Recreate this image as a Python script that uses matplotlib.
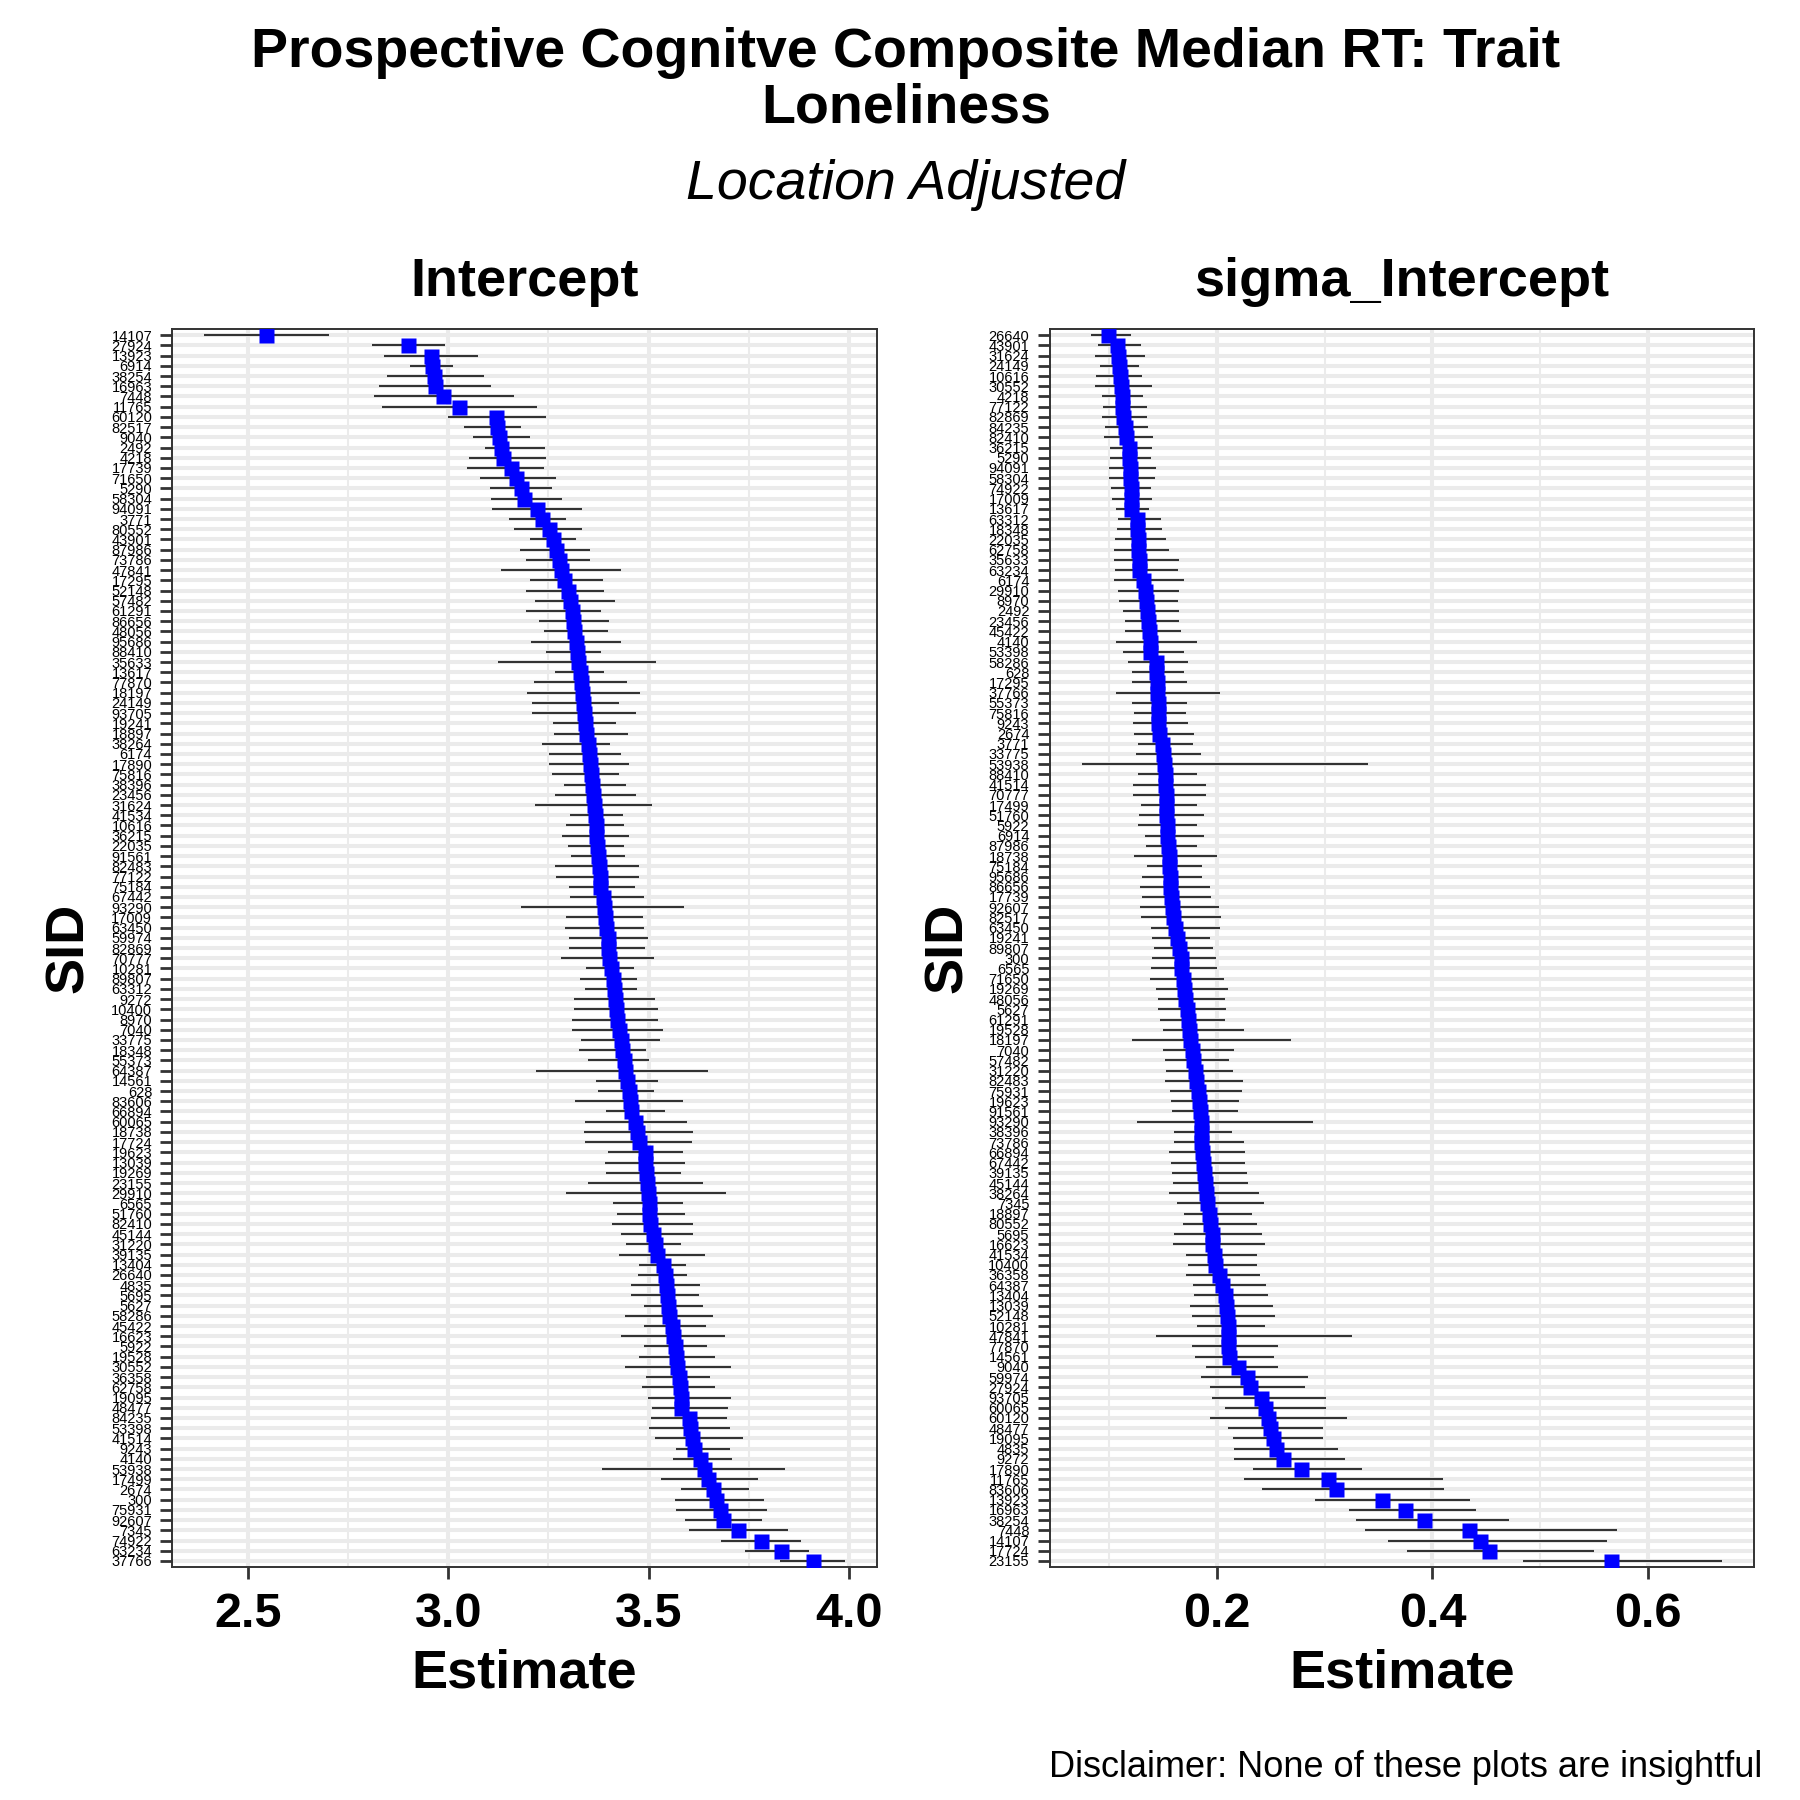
import matplotlib
matplotlib.use("Agg")
import matplotlib.pyplot as plt
from matplotlib.ticker import FixedLocator

plt.rcParams['font.family'] = ['Liberation Sans', 'DejaVu Sans']

# ---- Intercept panel ----
sid_int = ["14107", "27924", "13923", "6914", "38254", "16963", "7448", "11765", "60120", "82517",
           "9040", "2492", "4218", "17739", "71650", "5290", "58304", "94091", "3771", "80552",
           "43901", "87986", "73786", "47841", "17295", "52148", "57482", "61291", "86656", "48056",
           "95686", "88410", "35633", "13617", "77870", "18197", "24149", "93705", "19241", "18897",
           "38264", "6174", "17890", "75816", "38396", "23456", "31624", "41534", "10616", "36215",
           "22035", "91561", "82483", "77122", "75184", "67442", "93290", "17009", "63450", "59974",
           "82869", "70777", "10281", "89807", "63312", "9272", "10400", "8970", "7040", "33775",
           "18348", "55373", "64387", "14561", "628", "83606", "66894", "60065", "18738", "17724",
           "19623", "13039", "19269", "23155", "29910", "6565", "51760", "82410", "45144", "31220",
           "39135", "13404", "26640", "4835", "5695", "5627", "58286", "45422", "16623", "5922",
           "19528", "30552", "36358", "62758", "19095", "48477", "84235", "53398", "41514", "9243",
           "4140", "53938", "17499", "2674", "300", "75931", "92607", "7345", "74922", "63234", "37766"]
est_int = [2.545, 2.901, 2.958, 2.960, 2.964, 2.966, 2.986, 3.026, 3.120, 3.123,
           3.127, 3.132, 3.136, 3.158, 3.170, 3.182, 3.190, 3.222, 3.235, 3.252,
           3.262, 3.270, 3.276, 3.282, 3.290, 3.298, 3.304, 3.310, 3.312, 3.315,
           3.318, 3.322, 3.325, 3.328, 3.331, 3.334, 3.337, 3.340, 3.342, 3.345,
           3.348, 3.351, 3.354, 3.357, 3.360, 3.362, 3.364, 3.366, 3.368, 3.370,
           3.372, 3.374, 3.376, 3.378, 3.380, 3.386, 3.389, 3.392, 3.395, 3.398,
           3.400, 3.402, 3.407, 3.410, 3.413, 3.416, 3.418, 3.420, 3.426, 3.430,
           3.434, 3.438, 3.441, 3.446, 3.450, 3.453, 3.456, 3.466, 3.470, 3.475,
           3.490, 3.492, 3.494, 3.496, 3.498, 3.500, 3.502, 3.504, 3.512, 3.516,
           3.520, 3.536, 3.540, 3.543, 3.546, 3.549, 3.552, 3.558, 3.562, 3.565,
           3.568, 3.570, 3.576, 3.578, 3.580, 3.582, 3.600, 3.604, 3.608, 3.614,
           3.628, 3.638, 3.648, 3.660, 3.668, 3.677, 3.686, 3.722, 3.780, 3.830, 3.910]
lo_int = [2.392, 2.809, 2.841, 2.906, 2.848, 2.827, 2.814, 2.834, 3.000, 3.040,
          3.063, 3.091, 3.053, 3.048, 3.080, 3.105, 3.106, 3.109, 3.153, 3.165,
          3.205, 3.180, 3.193, 3.132, 3.205, 3.195, 3.216, 3.193, 3.227, 3.239,
          3.207, 3.244, 3.125, 3.267, 3.214, 3.197, 3.210, 3.208, 3.261, 3.264,
          3.234, 3.252, 3.252, 3.259, 3.289, 3.267, 3.216, 3.305, 3.293, 3.284,
          3.298, 3.307, 3.267, 3.270, 3.302, 3.305, 3.182, 3.293, 3.291, 3.301,
          3.302, 3.281, 3.343, 3.330, 3.341, 3.313, 3.313, 3.309, 3.308, 3.332,
          3.326, 3.350, 3.218, 3.369, 3.375, 3.316, 3.393, 3.341, 3.339, 3.341,
          3.400, 3.392, 3.395, 3.350, 3.295, 3.411, 3.420, 3.409, 3.430, 3.443,
          3.427, 3.477, 3.474, 3.457, 3.455, 3.489, 3.441, 3.489, 3.430, 3.489,
          3.477, 3.440, 3.494, 3.483, 3.498, 3.508, 3.506, 3.500, 3.515, 3.568,
          3.560, 3.384, 3.531, 3.580, 3.566, 3.568, 3.591, 3.602, 3.680, 3.741, 3.827]
hi_int = [2.702, 2.993, 3.075, 3.011, 3.089, 3.106, 3.165, 3.222, 3.244, 3.182,
          3.205, 3.241, 3.244, 3.239, 3.270, 3.259, 3.284, 3.335, 3.295, 3.335,
          3.320, 3.355, 3.355, 3.430, 3.386, 3.390, 3.415, 3.381, 3.401, 3.398,
          3.430, 3.381, 3.519, 3.389, 3.447, 3.478, 3.426, 3.469, 3.418, 3.449,
          3.403, 3.430, 3.450, 3.426, 3.443, 3.468, 3.508, 3.435, 3.438, 3.451,
          3.439, 3.440, 3.475, 3.475, 3.466, 3.489, 3.589, 3.485, 3.489, 3.498,
          3.490, 3.514, 3.464, 3.472, 3.472, 3.517, 3.523, 3.523, 3.536, 3.528,
          3.494, 3.502, 3.647, 3.523, 3.514, 3.585, 3.540, 3.597, 3.610, 3.608,
          3.585, 3.591, 3.580, 3.636, 3.694, 3.585, 3.591, 3.610, 3.611, 3.580,
          3.640, 3.594, 3.597, 3.628, 3.625, 3.636, 3.660, 3.642, 3.690, 3.645,
          3.665, 3.705, 3.653, 3.665, 3.705, 3.698, 3.695, 3.702, 3.735, 3.702,
          3.708, 3.841, 3.773, 3.750, 3.789, 3.795, 3.784, 3.847, 3.880, 3.900, 3.989]

# ---- sigma_Intercept panel ----
sid_sig = ["26640", "43901", "31624", "24149", "10616", "30552", "4218", "77122", "82869", "84235",
           "82410", "36215", "5290", "94091", "58304", "74922", "17009", "13617", "63312", "18348",
           "22035", "62758", "35633", "63234", "6174", "29910", "8970", "2492", "23456", "45422",
           "4140", "53398", "58286", "628", "17295", "37766", "55373", "75816", "9243", "2674",
           "3771", "33775", "53938", "88410", "41514", "70777", "17499", "51760", "5922", "6914",
           "87986", "18738", "75184", "95686", "86656", "17739", "92607", "82517", "63450", "19241",
           "89807", "300", "6565", "71650", "19269", "48056", "5627", "61291", "19528", "18197",
           "7040", "57482", "31220", "82483", "75931", "19623", "91561", "93290", "38396", "73786",
           "66894", "67442", "39135", "45144", "38264", "7345", "18897", "80552", "5695", "16623",
           "41534", "10400", "36358", "64387", "13404", "13039", "52148", "10281", "47841", "77870",
           "14561", "9040", "59974", "27924", "93705", "60065", "60120", "48477", "19095", "4835",
           "9272", "17890", "11765", "83606", "13923", "16963", "38254", "7448", "14107", "17724", "23155"]
est_sig = [0.0990, 0.1071, 0.1080, 0.1093, 0.1100, 0.1110, 0.1114, 0.1120, 0.1127, 0.1144,
           0.1157, 0.1180, 0.1186, 0.1190, 0.1195, 0.1200, 0.1203, 0.1203, 0.1255, 0.1260,
           0.1263, 0.1270, 0.1272, 0.1280, 0.1314, 0.1335, 0.1344, 0.1350, 0.1357, 0.1365,
           0.1374, 0.1382, 0.1433, 0.1438, 0.1440, 0.1446, 0.1450, 0.1450, 0.1455, 0.1460,
           0.1485, 0.1500, 0.1510, 0.1514, 0.1520, 0.1523, 0.1527, 0.1531, 0.1536, 0.1540,
           0.1548, 0.1550, 0.1557, 0.1560, 0.1565, 0.1570, 0.1578, 0.1590, 0.1612, 0.1630,
           0.1646, 0.1663, 0.1670, 0.1685, 0.1693, 0.1706, 0.1720, 0.1727, 0.1740, 0.1753,
           0.1766, 0.1778, 0.1796, 0.1808, 0.1825, 0.1834, 0.1842, 0.1847, 0.1850, 0.1855,
           0.1864, 0.1872, 0.1880, 0.1890, 0.1900, 0.1910, 0.1923, 0.1936, 0.1950, 0.1957,
           0.1970, 0.1983, 0.2020, 0.2047, 0.2072, 0.2085, 0.2094, 0.2098, 0.2100, 0.2106,
           0.2110, 0.2196, 0.2277, 0.2307, 0.2410, 0.2447, 0.2477, 0.2490, 0.2520, 0.2550,
           0.2609, 0.2780, 0.3027, 0.3100, 0.3534, 0.3742, 0.3917, 0.4343, 0.4441, 0.4522, 0.5659]
lo_sig = [0.0829, 0.0892, 0.0871, 0.0914, 0.0880, 0.0871, 0.0931, 0.0944, 0.0931, 0.0956,
          0.0948, 0.1007, 0.1007, 0.0995, 0.0995, 0.1016, 0.1029, 0.1059, 0.1084, 0.1071,
          0.1050, 0.1042, 0.1042, 0.1050, 0.1042, 0.1084, 0.1093, 0.1127, 0.1144, 0.1148,
          0.1063, 0.1127, 0.1178, 0.1212, 0.1208, 0.1059, 0.1212, 0.1229, 0.1220, 0.1233,
          0.1263, 0.1250, 0.0743, 0.1263, 0.1220, 0.1220, 0.1293, 0.1276, 0.1263, 0.1327,
          0.1340, 0.1229, 0.1348, 0.1306, 0.1285, 0.1306, 0.1285, 0.1293, 0.1391, 0.1400,
          0.1412, 0.1400, 0.1391, 0.1382, 0.1433, 0.1455, 0.1455, 0.1468, 0.1497, 0.1212,
          0.1497, 0.1519, 0.1527, 0.1519, 0.1561, 0.1570, 0.1583, 0.1255, 0.1604, 0.1604,
          0.1553, 0.1570, 0.1583, 0.1595, 0.1553, 0.1625, 0.1689, 0.1681, 0.1604, 0.1595,
          0.1710, 0.1732, 0.1710, 0.1774, 0.1783, 0.1753, 0.1766, 0.1817, 0.1433, 0.1766,
          0.1796, 0.1902, 0.1851, 0.1936, 0.1953, 0.2072, 0.1936, 0.2106, 0.2149, 0.2158,
          0.2158, 0.2337, 0.2251, 0.2413, 0.2912, 0.3223, 0.3286, 0.3372, 0.3585, 0.3764, 0.4841]
hi_sig = [0.1203, 0.1293, 0.1335, 0.1280, 0.1306, 0.1400, 0.1314, 0.1348, 0.1348, 0.1357,
          0.1404, 0.1400, 0.1391, 0.1433, 0.1425, 0.1391, 0.1400, 0.1370, 0.1476, 0.1489,
          0.1527, 0.1553, 0.1646, 0.1634, 0.1689, 0.1646, 0.1638, 0.1646, 0.1646, 0.1668,
          0.1817, 0.1698, 0.1732, 0.1689, 0.1723, 0.2030, 0.1723, 0.1710, 0.1732, 0.1783,
          0.1774, 0.1851, 0.3401, 0.1817, 0.1902, 0.1902, 0.1817, 0.1880, 0.1817, 0.1880,
          0.1817, 0.1996, 0.1859, 0.1859, 0.1936, 0.1945, 0.2021, 0.2038, 0.2030, 0.1932,
          0.1966, 0.1987, 0.1996, 0.2064, 0.2106, 0.2072, 0.2081, 0.2072, 0.2251, 0.2690,
          0.2158, 0.2115, 0.2149, 0.2243, 0.2234, 0.2200, 0.2192, 0.2895, 0.2140, 0.2251,
          0.2264, 0.2264, 0.2277, 0.2285, 0.2392, 0.2439, 0.2328, 0.2371, 0.2413, 0.2447,
          0.2371, 0.2371, 0.2400, 0.2456, 0.2477, 0.2520, 0.2541, 0.2447, 0.3252, 0.2562,
          0.2528, 0.2562, 0.2848, 0.2818, 0.3010, 0.3010, 0.3210, 0.2988, 0.2988, 0.3120,
          0.3189, 0.3342, 0.4096, 0.4104, 0.4351, 0.4407, 0.4713, 0.5715, 0.5617, 0.5502, 0.6690]

GRID = '#EBEBEB'
DARK = '#333333'

fig = plt.figure(figsize=(18, 18), dpi=100)
ax1 = fig.add_axes([0.0958, 0.1294, 0.3912, 0.6878])
ax2 = fig.add_axes([0.5831, 0.1294, 0.3915, 0.6878])


def draw_panel(ax, sids, est, lo, hi, title, major, major_lbl, minor):
    ax.hlines(sids, lo, hi, color=DARK, lw=1.5, zorder=2)
    ax.plot(est, sids, 's', color='#0000FF', ms=10.8, mec='none', zorder=3)
    ax.set_ylim(len(sids) - 1 + 0.6, -0.6)
    ax.set_xticks(major, labels=major_lbl, fontweight='bold')
    ax.xaxis.set_minor_locator(FixedLocator(minor))
    ax.set_axisbelow(True)
    ax.grid(which='major', color=GRID, lw=2.9)
    ax.grid(which='minor', axis='x', color=GRID, lw=1.45)
    ax.tick_params(axis='x', which='major', length=8.6, width=2, color=DARK,
                   labelsize=35, pad=9, labelcolor='black')
    ax.tick_params(axis='x', which='minor', length=0)
    ax.tick_params(axis='y', length=8.6, width=2, color=DARK, labelsize=10.5,
                   pad=6, labelcolor='black')
    for s in ax.spines.values():
        s.set_color(DARK)
        s.set_linewidth(1.4)
    ax.set_title(title, fontsize=39, fontweight='bold', pad=24)
    ax.set_xlabel('Estimate', fontsize=39, fontweight='bold', va='baseline')
    ax.xaxis.set_label_coords(0.5, -0.097)
    ax.set_ylabel('SID', fontsize=39, fontweight='bold', va='center', ha='center')


draw_panel(ax1, sid_int, est_int, lo_int, hi_int, 'Intercept',
           [2.5, 3.0, 3.5, 4.0], ['2.5', '3.0', '3.5', '4.0'], [2.75, 3.25, 3.75])
draw_panel(ax2, sid_sig, est_sig, lo_sig, hi_sig, 'sigma_Intercept',
           [0.2, 0.4, 0.6], ['0.2', '0.4', '0.6'], [0.1, 0.3, 0.5])
ax1.yaxis.set_label_coords(-0.147, 0.5)
ax2.yaxis.set_label_coords(-0.144, 0.5)

fig.text(0.5033, 0.9628, 'Prospective Cognitve Composite Median RT: Trait',
         ha='center', va='baseline', fontsize=40, fontweight='bold')
fig.text(0.5033, 0.9322, 'Loneliness', ha='center', va='baseline',
         fontsize=40, fontweight='bold')
fig.text(0.5033, 0.8894, 'Location Adjusted', ha='center', va='baseline',
         fontsize=40, fontstyle='italic')
fig.text(0.9789, 0.0128, 'Disclaimer: None of these plots are insightful',
         ha='right', va='baseline', fontsize=26)

fig.savefig('out.png', dpi=100, facecolor='white')
